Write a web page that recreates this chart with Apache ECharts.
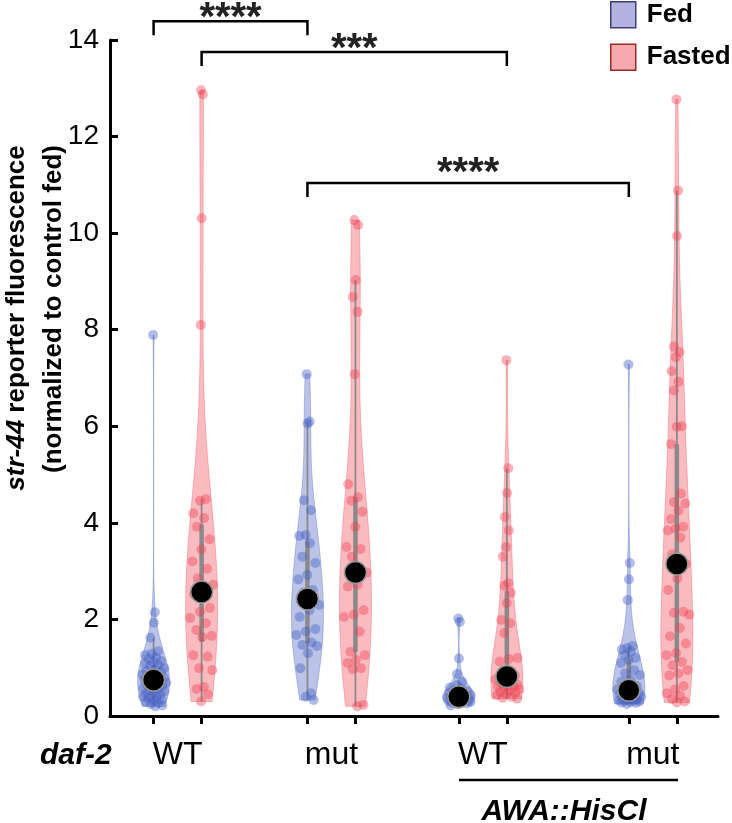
<!DOCTYPE html>
<html>
<head>
<meta charset="utf-8">
<script src="https://cdn.jsdelivr.net/npm/echarts@6.0.0/dist/echarts.min.js"></script>
<style>
  html, body { margin: 0; padding: 0; background: #fff; }
  #chart { width: 732px; height: 823px; }
</style>
</head>
<body>
<div id="chart"></div>
<script>
// str-44 reporter fluorescence, normalized to control fed
const genotypes = ['WT', 'mut', 'WT', 'mut'];
const conditions = ['Fed', 'Fasted'];
const yTicks = [0, 2, 4, 6, 8, 10, 12, 14];

const wtFed = [7.89, 2.15, 1.93, 1.62, 1.34, 1.29, 1.26, 1.21, 1.19, 1.14, 1.12, 1.08, 1.05, 1.04, 0.99, 0.97,
  0.93, 0.91, 0.88, 0.86, 0.84, 0.81, 0.79, 0.77, 0.75, 0.74, 0.72, 0.69, 0.67, 0.66, 0.63, 0.6, 0.58, 0.57,
  0.54, 0.51, 0.49, 0.47, 0.45, 0.42, 0.4, 0.38, 0.37, 0.34, 0.31, 0.29, 0.27, 0.25, 0.22, 0.2];
const wtFasted = [12.96, 12.87, 10.31, 8.1, 4.49, 4.46, 4.2, 4.1, 3.92, 3.66, 3.45, 3.2, 3.05, 2.85, 2.72, 2.62,
  2.52, 2.24, 2.16, 2.03, 1.92, 1.78, 1.66, 1.63, 1.26, 1.23, 0.99, 0.95, 0.6, 0.56, 0.45, 0.3];
const mutFed = [7.08, 6.1, 6.06, 4.47, 4.26, 3.75, 3.73, 3.58, 3.3, 3.17, 2.92, 2.83, 2.61, 2.55, 2.3, 2.19,
  2.05, 1.8, 1.75, 1.68, 1.52, 1.47, 1.45, 1.3, 0.99, 0.47, 0.4, 0.33];
const mutFasted = [10.27, 10.17, 9.03, 8.68, 8.37, 7.08, 4.8, 4.53, 4.46, 4.23, 3.92, 3.5, 3.46, 3.3, 2.97,
  2.72, 2.68, 2.19, 2.1, 2.05, 1.75, 1.33, 1.26, 1.16, 1.1, 0.99, 0.97, 0.23, 0.2];
const hisWtFed = [2.02, 1.95, 1.19, 0.87, 0.71, 0.64, 0.59, 0.56, 0.53, 0.51, 0.5, 0.47, 0.46, 0.44, 0.43, 0.41,
  0.4, 0.39, 0.38, 0.37, 0.36, 0.35, 0.35, 0.33, 0.32, 0.31, 0.3, 0.29, 0.28, 0.27, 0.26, 0.24, 0.22];
const hisWtFasted = [7.37, 5.13, 4.62, 4.12, 3.84, 3.5, 3.3, 2.75, 2.7, 2.55, 2.34, 1.99, 1.92, 1.72, 1.2, 1.18,
  1.13, 0.84, 0.8, 0.76, 0.72, 0.68, 0.65, 0.62, 0.61, 0.6, 0.58, 0.55, 0.52, 0.5, 0.48, 0.45, 0.43, 0.4, 0.38, 0.36];
const hisMutFed = [7.28, 3.17, 2.83, 2.4, 1.45, 1.41, 1.38, 1.33, 1.26, 1.2, 1.16, 1.1, 0.95, 0.88, 0.85, 0.75,
  0.71, 0.62, 0.58, 0.55, 0.52, 0.5, 0.48, 0.46, 0.45, 0.43, 0.42, 0.4, 0.38, 0.37, 0.35, 0.34, 0.33, 0.32,
  0.31, 0.3, 0.29, 0.28, 0.27, 0.25];
const hisMutFasted = [12.77, 10.88, 9.94, 7.65, 7.54, 7.43, 7.14, 6.92, 6.74, 6.0, 5.99, 5.63, 4.61, 4.43, 4.4,
  4.25, 4.08, 3.92, 3.88, 3.84, 3.69, 3.35, 3.15, 2.85, 2.61, 2.16, 2.14, 2.1, 1.82, 1.65, 1.5, 1.3, 1.26, 1.12,
  1.05, 0.95, 0.88, 0.84, 0.62, 0.55, 0.47, 0.42, 0.35, 0.3, 0.28];

// significance: [group a, group b, stars]
const sigPairs = [[0, 2, '****'], [1, 5, '***'], [2, 6, '****']];

// layout
const X_MAX = 12.41;
const pairCenters = [1.38, 4.52, 7.61, 11.08];
const pairHalf = 0.49;
const VIOLIN_HALF_PX = 16;
const bracketLevels = [14.39, 13.75, 11.04];
const starOffsets = [-2, -2, -9];
const FONT = "'Liberation Sans', Arial, Helvetica, sans-serif";

const fedColor = 'rgba(105,125,205,0.45)';
const fedPoint = 'rgba(70,95,195,0.42)';
const fastedColor = 'rgba(242,92,104,0.42)';
const fastedPoint = 'rgba(236,62,80,0.4)';
const boxColor = '#8a8a8a';

const groupValues = [wtFed, wtFasted, mutFed, mutFasted, hisWtFed, hisWtFasted, hisMutFed, hisMutFasted];

function quantile(s, p) {
  const pos = (s.length - 1) * p;
  const lo = Math.floor(pos), hi = Math.ceil(pos);
  return s[lo] + (s[hi] - s[lo]) * (pos - lo);
}

function describe(vals, idx) {
  const s = vals.slice().sort((a, b) => a - b);
  const n = s.length;
  const q1 = quantile(s, 0.25), med = quantile(s, 0.5), q3 = quantile(s, 0.75);
  const iqr = q3 - q1;
  const lo = s.find(v => v >= q1 - 1.5 * iqr);
  const hi = s.filter(v => v <= q3 + 1.5 * iqr).pop();
  const mean = s.reduce((a, b) => a + b, 0) / n;
  const sd = Math.sqrt(s.reduce((a, v) => a + (v - mean) ** 2, 0) / (n - 1));
  const bw = sd * Math.pow(n, -0.2);
  const dens = (y) => s.reduce((a, v) => a + Math.exp(-0.5 * ((y - v) / bw) ** 2), 0);
  const steps = 160;
  const kde = [];
  for (let k = 0; k <= steps; k++) {
    const y = s[0] + (s[n - 1] - s[0]) * k / steps;
    kde.push([y, dens(y)]);
  }
  const maxD = Math.max(...kde.map(p => p[1]));
  kde.forEach(p => { p[1] /= maxD; });
  const cond = idx % 2;
  const x = pairCenters[Math.floor(idx / 2)] + (cond === 0 ? -pairHalf : pairHalf);
  return { vals, cond, x, q1, med, q3, lo, hi, kde, dens: (y) => dens(y) / maxD };
}

const groups = groupValues.map(describe);
const groupX = groups.map(g => g.x);
const pxPerUnit = 608 / X_MAX;

function pointsFor(cond) {
  const out = [];
  groups.forEach(g => {
    if (g.cond !== cond) return;
    g.vals.forEach((v, i) => {
      const j = ((i * 0.618034 + 0.31) % 1) * 2 - 1;
      const w = Math.max(1.5, VIOLIN_HALF_PX * g.dens(v)) * 0.8;
      out.push([g.x + j * w / pxPerUnit, v]);
    });
  });
  return out;
}

function violinSeries(cond) {
  return {
    name: conditions[cond],
    type: 'custom',
    z: 1,
    silent: true,
    data: groups.map((g, i) => [g.x, g.med, i]).filter((d, i) => groups[i].cond === cond),
    encode: { x: 0, y: 1 },
    renderItem(params, api) {
      const g = groups[api.value(2)];
      const left = [], right = [];
      g.kde.forEach(([y, d]) => {
        const p = api.coord([g.x, y]);
        const w = d * VIOLIN_HALF_PX;
        left.push([p[0] - w, p[1]]);
        right.unshift([p[0] + w, p[1]]);
      });
      const fill = cond === 0 ? fedColor : fastedColor;
      const pLo = api.coord([g.x, g.lo]), pHi = api.coord([g.x, g.hi]);
      const pQ1 = api.coord([g.x, g.q1]), pQ3 = api.coord([g.x, g.q3]);
      return {
        type: 'group',
        children: [
          { type: 'polygon', shape: { points: left.concat(right) }, style: { fill, stroke: fill, lineWidth: 1 } },
          { type: 'line', shape: { x1: pLo[0], y1: pLo[1], x2: pHi[0], y2: pHi[1] }, style: { stroke: boxColor, lineWidth: 1.8 } },
          { type: 'line', shape: { x1: pQ1[0], y1: pQ1[1], x2: pQ3[0], y2: pQ3[1] }, style: { stroke: boxColor, lineWidth: 4.5 } },
        ],
      };
    },
  };
}

const option = {
  animation: false,
  backgroundColor: '#fff',
  grid: { left: 110, right: 14, top: 40, bottom: 107, containLabel: false },
  legend: {
    left: 610, top: 1, orient: 'vertical', padding: 0,
    itemWidth: 25, itemHeight: 26, itemGap: 15,
    selectedMode: false,
    textStyle: { fontSize: 26, fontWeight: 'bold', color: '#000', fontFamily: FONT, padding: [0, 0, 0, 6] },
    data: [
      { name: 'Fed', icon: 'rect', itemStyle: { color: '#b3b3df', borderColor: '#3d3d7d', borderWidth: 1.5 } },
      { name: 'Fasted', icon: 'rect', itemStyle: { color: '#f6aaae', borderColor: '#9b2a2a', borderWidth: 1.5 } },
    ],
  },
  xAxis: {
    type: 'value', min: 0, max: X_MAX,
    splitLine: { show: false },
    axisLine: { lineStyle: { color: '#000', width: 3 } },
    axisTick: { customValues: groupX, length: 8, lineStyle: { color: '#000', width: 3 } },
    axisLabel: {
      customValues: pairCenters, margin: 23, fontSize: 32, color: '#000', fontFamily: FONT,
      formatter: (v) => {
        let best = 0;
        pairCenters.forEach((c, i) => { if (Math.abs(c - v) < Math.abs(pairCenters[best] - v)) best = i; });
        return genotypes[best];
      },
    },
  },
  yAxis: {
    type: 'value', min: yTicks[0], max: yTicks[yTicks.length - 1], interval: 2,
    splitLine: { show: false },
    axisLine: { show: true, lineStyle: { color: '#000', width: 3 } },
    axisTick: { show: true, inside: true, length: 8, lineStyle: { color: '#000', width: 3 } },
    axisLabel: { fontSize: 28, color: '#000', margin: 11, fontFamily: FONT },
  },
  graphic: [
    {
      type: 'text', x: 17, y: 318, rotation: Math.PI / 2,
      style: {
        text: '{i|str-44} reporter fluorescence',
        fontSize: 26, fontWeight: 'bold', fontFamily: FONT, fill: '#000',
        align: 'center', verticalAlign: 'middle',
        rich: { i: { fontSize: 26, fontWeight: 'bold', fontStyle: 'italic', fontFamily: FONT, fill: '#000' } },
      },
    },
    {
      type: 'text', x: 54, y: 309, rotation: Math.PI / 2,
      style: {
        text: '(normalized to control fed)', fontSize: 26, fontWeight: 'bold', fontFamily: FONT, fill: '#000',
        align: 'center', verticalAlign: 'middle',
      },
    },
    {
      type: 'text', x: 40, y: 756,
      style: { text: 'daf-2', fontSize: 30, fontWeight: 'bold', fontStyle: 'italic', fontFamily: FONT, fill: '#000', align: 'left', verticalAlign: 'middle' },
    },
    { type: 'line', shape: { x1: 459, y1: 780, x2: 678, y2: 780 }, style: { stroke: '#000', lineWidth: 2.5 } },
    {
      type: 'text', x: 564, y: 812,
      style: { text: 'AWA::HisCl', fontSize: 30, fontWeight: 'bold', fontStyle: 'italic', fontFamily: FONT, fill: '#000', align: 'center', verticalAlign: 'middle' },
    },
  ],
  series: [
    violinSeries(0),
    violinSeries(1),
    {
      name: 'Fed', type: 'scatter', z: 2, silent: true, symbolSize: 10,
      itemStyle: { color: fedPoint, opacity: 1 }, data: pointsFor(0),
    },
    {
      name: 'Fasted', type: 'scatter', z: 2, silent: true, symbolSize: 10,
      itemStyle: { color: fastedPoint, opacity: 1 }, data: pointsFor(1),
    },
    {
      name: 'median', type: 'scatter', z: 3, silent: true, symbolSize: 22,
      itemStyle: { color: '#000', borderColor: '#999', borderWidth: 1.5, opacity: 1 },
      data: groups.map(g => [g.x, g.med]),
    },
    {
      name: 'sig', type: 'custom', z: 4, silent: true, clip: false,
      data: sigPairs.map((p, k) => [groupX[p[0]], bracketLevels[k], k]),
      encode: { x: 0, y: 1 },
      renderItem(params, api) {
        const k = api.value(2);
        const [a, b, stars] = sigPairs[k];
        const p1 = api.coord([groupX[a], bracketLevels[k]]);
        const p2 = api.coord([groupX[b], bracketLevels[k]]);
        const drop = 14;
        return {
          type: 'group',
          children: [
            {
              type: 'polyline',
              shape: { points: [[p1[0], p1[1] + drop], p1, p2, [p2[0], p2[1] + drop]] },
              style: { stroke: '#000', lineWidth: 2.5, fill: null },
            },
            {
              type: 'text',
              style: {
                text: stars, x: (p1[0] + p2[0]) / 2, y: p1[1] + starOffsets[k],
                fontSize: 40, fontWeight: 'bold', fontFamily: FONT, fill: '#222',
                align: 'center', verticalAlign: 'middle',
              },
            },
          ],
        };
      },
    },
  ],
};

const chart = echarts.init(document.getElementById('chart'), null, { renderer: 'canvas' });
chart.setOption(option);
</script>
</body>
</html>
